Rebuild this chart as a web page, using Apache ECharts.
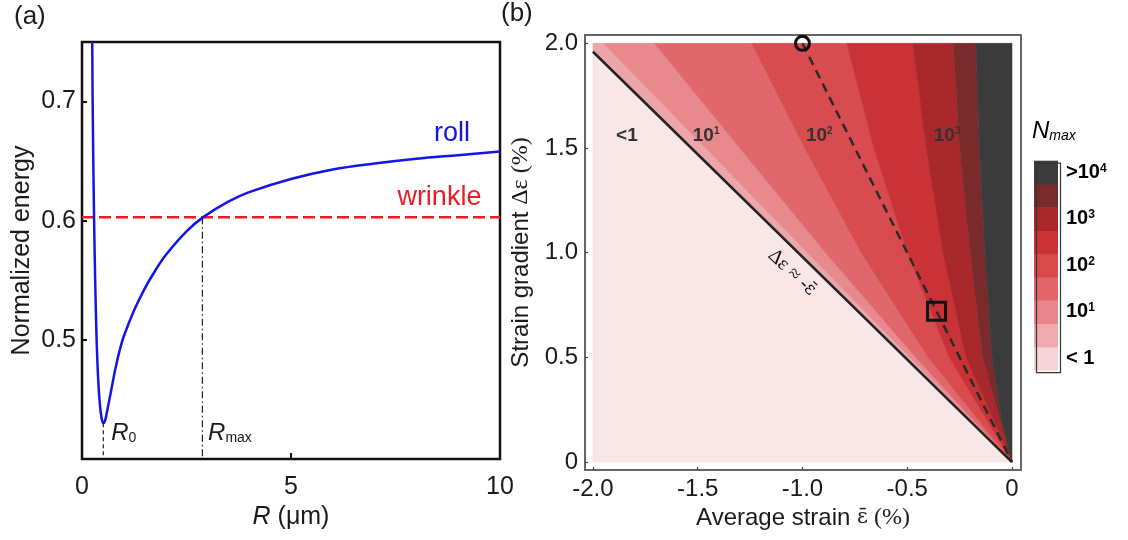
<!DOCTYPE html>
<html><head><meta charset="utf-8">
<script src="https://cdn.jsdelivr.net/npm/echarts@6/dist/echarts.min.js"></script>
<style>html,body{margin:0;padding:0;background:#fff}#c{width:1128px;height:540px}</style>
</head><body><div id="c"></div>
<script>
// ---------- Panel (a) data ----------
const rollR = [0.245, 0.255, 0.27, 0.29, 0.315, 0.35, 0.39, 0.43, 0.47, 0.51, 0.55, 0.6, 0.7, 0.8, 0.9, 1.0, 1.25, 1.5, 1.75, 2.0, 2.5, 2.9, 3.5, 4.0, 5.0, 6.0, 7.0, 8.0, 9.0, 10.0];
const rollE = [0.750, 0.700, 0.650, 0.600, 0.550, 0.500, 0.465, 0.445, 0.434, 0.430, 0.432, 0.440, 0.458, 0.476, 0.491, 0.503, 0.525, 0.543, 0.558, 0.571, 0.591, 0.603, 0.616, 0.624, 0.635, 0.643, 0.648, 0.652, 0.655, 0.658];
const wrinkleE = 0.603;
const R0 = 0.51, E0 = 0.43;
const Rmax = 2.88;
const xTicksA = [0, 5, 10];
const xInnerTicksA = [5];
const yTicksA = [0.5, 0.6, 0.7];

// ---------- Panel (b) data ----------
const xTicksB = [-2, -1.5, -1, -0.5, 0];
const yTicksB = [0, 0.5, 1, 1.5, 2];
const diagLine = [[-2.0, 1.96], [0, 0]];
const contour1 = [[-1.951, 2], [-1.463, 1.5], [-0.976, 1.0], [-0.488, 0.5], [0, 0]];
const contour2 = [[-1.707, 2], [-1.30, 1.5], [-0.89, 1.0], [-0.46, 0.5], [0, 0]];
const contour3 = [[-1.243, 2], [-0.99, 1.5], [-0.72, 1.0], [-0.40, 0.5], [0, 0]];
const contour4 = [[-0.789, 2], [-0.66, 1.5], [-0.50, 1.0], [-0.30, 0.5], [0, 0]];
const contour5 = [[-0.474, 2], [-0.41, 1.5], [-0.33, 1.0], [-0.22, 0.5], [0, 0]];
const contour6 = [[-0.280, 2], [-0.25, 1.5], [-0.20, 1.0], [-0.14, 0.5], [0, 0]];
const contour7 = [[-0.172, 2], [-0.155, 1.5], [-0.13, 1.0], [-0.095, 0.5], [-0.05, 0.2], [0, 0]];
const bandColors = ['#eca5a9', '#e8898d', '#e0686c', '#d84b4e', '#c93337', '#a9282b', '#7b2a2c', '#3b3b3b'];
const paleColor = '#f9e6e7';
const legendColors = ['#f4d4d6', '#eeaaae', '#e8878b', '#e0666a', '#d8494c', '#c93236', '#a9282b', '#7b2a2c', '#3b3b3b'];
const legendMain = ['< 1', '', '10', '', '10', '', '10', '', '>10'];
const legendSup = ['', '', '1', '', '2', '', '3', '', '4'];
const dashedPath = [[-1.0, 2.0], [0, 0]];
const circlePt = [-1.0, 2.0];
const squarePt = [-0.36, 0.72];
const regionMain = ['<1', '10', '10', '10'];
const regionSup = ['', '1', '2', '3'];
const regionX = [-1.838, -1.46, -0.92, -0.31];
const regionY = [1.557, 1.557, 1.557, 1.557];
const diagLabelPos = [-1.05, 0.905];

// ---------- build ----------
const SANS = "'Liberation Sans', Arial, sans-serif";
const SERIF = "'Liberation Serif', 'Times New Roman', serif";
const DSERIF = "'DejaVu Serif', serif";
const TXT = '#1a1a1a';

const leftEdge = [[-2, 2], [-2, 1.96], [0, 0]];
const rightEdge = [[0, 2], [0, 0]];
const edges = [leftEdge, contour1, contour2, contour3, contour4, contour5, contour6, contour7, rightEdge];
const polygons = [{ pts: [[-2, 1.96], [-2, 0], [0, 0]], color: paleColor }];
for (let i = 0; i < edges.length - 1; i++) {
  polygons.push({ pts: edges[i].concat(edges[i + 1].slice().reverse()), color: bandColors[i] });
}

const chart = echarts.init(document.getElementById('c'), null, { renderer: 'canvas' });

function supRich(size, supSize, bold, color) {
  return {
    b: { fontSize: size, fontWeight: bold ? 'bold' : 'normal', fontFamily: SANS, color: color },
    s: { fontSize: supSize, fontWeight: bold ? 'bold' : 'normal', fontFamily: SANS, color: color, verticalAlign: 'top' }
  };
}
const hidden = { color: 'rgba(0,0,0,0)', opacity: 1 };

const legendLeft = 1034, legendTop = 160.7, boxW = 24, boxH = 23.26;
const graphics = [];
legendColors.forEach((c, i) => {
  graphics.push({ type: 'rect', left: legendLeft, top: legendTop + (legendColors.length - 1 - i) * boxH,
    shape: { width: boxW, height: boxH + 0.5 }, style: { fill: c }, z: 10 });
  if (legendMain[i]) {
    const t = legendSup[i] ? '{b|' + legendMain[i] + '}{s|' + legendSup[i] + '}' : '{b|' + legendMain[i] + '}';
    graphics.push({ type: 'text', x: legendLeft + boxW + 8, y: legendTop + (legendColors.length - 1 - i) * boxH + boxH / 2,
      style: { text: t, rich: supRich(20, 12, true, TXT), verticalAlign: 'middle', align: 'left' }, z: 10 });
  }
});
graphics.push({ type: 'rect', left: legendLeft, top: legendTop, shape: { width: boxW, height: boxH * legendColors.length },
  style: { fill: 'none', stroke: '#333', lineWidth: 1.2 }, z: 11 });
graphics.push({ type: 'text', x: 1032, y: 131, style: { text: '{n|N}{s|max}', verticalAlign: 'middle',
  rich: { n: { fontSize: 24, fontStyle: 'italic', fontFamily: SANS, color: TXT },
          s: { fontSize: 14, fontStyle: 'italic', fontFamily: SANS, color: TXT, verticalAlign: 'bottom' } } }, z: 10 });
graphics.push({ type: 'text', x: 14, y: 17, style: { text: '(a)', font: '26px ' + SANS, fill: TXT, verticalAlign: 'middle' } });
graphics.push({ type: 'text', x: 501, y: 14, style: { text: '(b)', font: '26px ' + SANS, fill: TXT, verticalAlign: 'middle' } });

const option = {
  animation: false,
  backgroundColor: '#fff',
  grid: [
    { left: 82, top: 42, width: 418, height: 417, show: true, borderColor: '#111', borderWidth: 2.5 },
    { left: 585, top: 35, width: 436, height: 435, show: true, borderColor: '#666', borderWidth: 2 }
  ],
  xAxis: [
    { gridIndex: 0, type: 'value', min: 0, max: 10,
      axisLine: { show: false, onZero: false }, splitLine: { show: false },
      axisTick: { show: true, inside: true, length: 6, customValues: xInnerTicksA, lineStyle: { color: '#111', width: 2 } },
      axisLabel: { customValues: xTicksA, margin: 16, fontSize: 25, fontFamily: SANS, color: TXT },
      name: '{i|R}{n| (μm)}', nameLocation: 'middle', nameGap: 46,
      nameTextStyle: { rich: { i: { fontSize: 25, fontStyle: 'italic', fontFamily: SANS, color: TXT }, n: { fontSize: 25, fontFamily: SANS, color: TXT } } } },
    { gridIndex: 1, type: 'value', min: -2.038, max: 0.043,
      axisLine: { show: false, onZero: false }, splitLine: { show: false },
      axisTick: { show: true, inside: true, length: 3, customValues: xTicksB, lineStyle: { color: '#444', width: 1.2 } },
      axisLabel: { customValues: xTicksB, margin: 7, fontSize: 24, fontFamily: SANS, color: TXT,
        formatter: v => (Math.abs(v) < 1e-9 ? '0' : v.toFixed(1)) },
      name: '{a|Average strain }{e|ε̄}{b| (%)}', nameLocation: 'middle', nameGap: 34,
      nameTextStyle: { rich: { a: { fontSize: 24, fontFamily: SANS, color: TXT }, e: { fontSize: 21, fontFamily: DSERIF, color: TXT }, b: { fontSize: 24, fontFamily: SERIF, color: TXT } } } }
  ],
  yAxis: [
    { gridIndex: 0, type: 'value', min: 0.4, max: 0.75,
      axisLine: { show: false, onZero: false }, splitLine: { show: false },
      axisTick: { show: true, inside: true, length: 5, customValues: yTicksA, lineStyle: { color: '#111', width: 2 } },
      axisLabel: { customValues: yTicksA, margin: 6, fontSize: 25, fontFamily: SANS, color: TXT, formatter: v => v.toFixed(1) },
      name: 'Normalized energy', nameLocation: 'middle', nameGap: 47,
      nameTextStyle: { fontSize: 25, fontFamily: SANS, color: TXT } },
    { gridIndex: 1, type: 'value', min: -0.038, max: 2.04,
      axisLine: { show: false, onZero: false }, splitLine: { show: false },
      axisTick: { show: true, inside: true, length: 3, customValues: yTicksB, lineStyle: { color: '#444', width: 1.2 } },
      axisLabel: { customValues: yTicksB, margin: 7, fontSize: 24, fontFamily: SANS, color: TXT,
        formatter: v => (Math.abs(v) < 1e-9 ? '0' : v.toFixed(1)) },
      name: '{a|Strain gradient }{b|Δε (%)}', nameLocation: 'middle', nameGap: 52,
      nameTextStyle: { rich: { a: { fontSize: 24, fontFamily: SANS, color: TXT }, b: { fontSize: 24, fontFamily: SERIF, color: TXT } } } }
  ],
  graphic: graphics,
  series: [
    // ----- panel (a) -----
    { type: 'line', xAxisIndex: 0, yAxisIndex: 0, data: [[0, wrinkleE], [10, wrinkleE]], symbol: 'none',
      lineStyle: { color: '#ec1c24', width: 2.5, type: [12, 5] }, z: 2 },
    { type: 'line', xAxisIndex: 0, yAxisIndex: 0, data: rollR.map((r, i) => [r, rollE[i]]), symbol: 'none', smooth: 0.35,
      lineStyle: { color: '#1414e6', width: 2.5 }, z: 3 },
    { type: 'line', xAxisIndex: 0, yAxisIndex: 0, data: [[R0, E0], [R0, 0.4]], symbol: 'none',
      lineStyle: { color: '#222', width: 1.2, type: [4, 3] }, z: 1 },
    { type: 'line', xAxisIndex: 0, yAxisIndex: 0, data: [[Rmax, wrinkleE], [Rmax, 0.4]], symbol: 'none',
      lineStyle: { color: '#222', width: 1.2, type: [7, 3, 1.5, 3] }, z: 1 },
    { type: 'scatter', xAxisIndex: 0, yAxisIndex: 0, symbolSize: 1, itemStyle: hidden, silent: true,
      data: [
        { value: [8.85, 0.673], label: { formatter: 'roll', color: '#1414e6', fontSize: 27, fontFamily: SANS } },
        { value: [8.55, 0.6195], label: { formatter: 'wrinkle', color: '#ec1c24', fontSize: 27, fontFamily: SANS } },
        { value: [1.0, 0.4218], label: { formatter: '{i|R}{s|0}' } },
        { value: [3.54, 0.4218], label: { formatter: '{i|R}{s|max}' } }
      ],
      label: { show: true, position: 'inside',
        rich: { i: { fontSize: 24, fontStyle: 'italic', fontFamily: SANS, color: TXT },
                s: { fontSize: 14, fontFamily: SANS, color: TXT, verticalAlign: 'bottom' } } }, z: 5 },
    // ----- panel (b) -----
    { type: 'custom', xAxisIndex: 1, yAxisIndex: 1, silent: true, z: 1,
      data: polygons.map((p, i) => [p.pts[0][0], p.pts[0][1], i]),
      renderItem: (params, api) => {
        const poly = polygons[params.dataIndex];
        return { type: 'polygon', shape: { points: poly.pts.map(p => api.coord(p)) },
          style: { fill: poly.color, stroke: poly.color, lineWidth: 0.6 } };
      } },
    { type: 'line', xAxisIndex: 1, yAxisIndex: 1, data: diagLine, symbol: 'none',
      lineStyle: { color: '#222', width: 2.5 }, z: 3 },
    { type: 'line', xAxisIndex: 1, yAxisIndex: 1, data: dashedPath, symbol: 'none',
      lineStyle: { color: '#2a2a2a', width: 2.5, type: [9, 6] }, z: 3 },
    { type: 'scatter', xAxisIndex: 1, yAxisIndex: 1, data: [circlePt], symbol: 'circle', symbolSize: 14,
      itemStyle: { color: 'rgba(0,0,0,0)', opacity: 1, borderColor: '#111', borderWidth: 3 }, z: 4 },
    { type: 'scatter', xAxisIndex: 1, yAxisIndex: 1, data: [squarePt], symbol: 'rect', symbolSize: 18,
      itemStyle: { color: 'rgba(0,0,0,0)', opacity: 1, borderColor: '#111', borderWidth: 3 }, z: 4 },
    { type: 'scatter', xAxisIndex: 1, yAxisIndex: 1, symbolSize: 1, itemStyle: hidden, silent: true, z: 5,
      data: regionMain.map((m, i) => ({ value: [regionX[i], regionY[i]],
        label: { formatter: regionSup[i] ? '{b|' + m + '}{s|' + regionSup[i] + '}' : '{b|' + m + '}' } })),
      label: { show: true, position: 'inside', rich: supRich(19, 10, true, '#333') } },
    { type: 'scatter', xAxisIndex: 1, yAxisIndex: 1, symbolSize: 1, itemStyle: hidden, silent: true, z: 5,
      data: [diagLabelPos],
      label: { show: true, position: 'inside', formatter: '{a|Δε ≈ -}{e|ε̄}', rotate: -43,
        rich: { a: { fontSize: 20, fontFamily: SERIF, color: '#111' }, e: { fontSize: 18, fontFamily: DSERIF, color: '#111' } } } }
  ]
};
chart.setOption(option);
</script>
</body></html>
